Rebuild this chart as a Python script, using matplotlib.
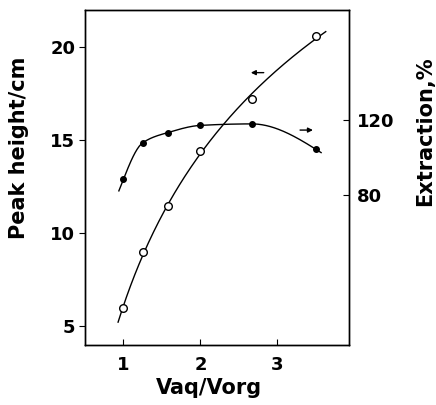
import numpy as np
import matplotlib
matplotlib.use("Agg")
import matplotlib.pyplot as plt

# Vaq/Vorg ratios
ratio = [1.0, 1.25, 1.58, 2.0, 2.67, 3.5]

# peak height (open circles, left axis)
peak_height = [6.0, 9.0, 11.5, 14.45, 17.2, 20.6]

# extraction % (filled circles, right axis)
extraction = [88.5, 107.9, 113.4, 117.2, 118.0, 104.5]

x_ticks = [1, 2, 3]
left_ticks = [5, 10, 15, 20]
right_ticks = [80, 120]


def pchip_curve(x, y, xq):
    # shape preserving cubic through the points, straight beyond the ends
    x = np.asarray(x, float)
    y = np.asarray(y, float)
    h = np.diff(x)
    delta = np.diff(y) / h
    n = len(x)
    d = np.zeros(n)
    for k in range(1, n - 1):
        if delta[k - 1] * delta[k] > 0:
            w1 = 2 * h[k] + h[k - 1]
            w2 = h[k] + 2 * h[k - 1]
            d[k] = (w1 + w2) / (w1 / delta[k - 1] + w2 / delta[k])

    def end_slope(h0, h1, d0, d1):
        s = ((2 * h0 + h1) * d0 - h0 * d1) / (h0 + h1)
        if np.sign(s) != np.sign(d0):
            s = 0.0
        elif np.sign(d0) != np.sign(d1) and abs(s) > abs(3 * d0):
            s = 3 * d0
        return s

    d[0] = end_slope(h[0], h[1], delta[0], delta[1])
    d[-1] = end_slope(h[-1], h[-2], delta[-1], delta[-2])

    out = []
    for q in xq:
        if q <= x[0]:
            out.append(y[0] + d[0] * (q - x[0]))
            continue
        if q >= x[-1]:
            out.append(y[-1] + d[-1] * (q - x[-1]))
            continue
        i = np.searchsorted(x, q) - 1
        t = (q - x[i]) / h[i]
        h00 = 2 * t ** 3 - 3 * t ** 2 + 1
        h10 = t ** 3 - 2 * t ** 2 + t
        h01 = -2 * t ** 3 + 3 * t ** 2
        h11 = t ** 3 - t ** 2
        out.append(h00 * y[i] + h10 * h[i] * d[i]
                   + h01 * y[i + 1] + h11 * h[i] * d[i + 1])
    return np.array(out)


plt.rcParams["font.family"] = ["DejaVu Sans"]
plt.rcParams["font.weight"] = "bold"

fig = plt.figure(figsize=(4.36, 4.05), dpi=100)
ax = fig.add_axes([0.195, 0.148, 0.605, 0.827])
ax2 = ax.twinx()

# peak height: least squares curve in log(ratio)
p1 = np.polyfit(np.log(ratio), peak_height, 2)
xf1 = np.linspace(0.93, 3.63, 200)
ax.plot(xf1, np.polyval(p1, np.log(xf1)), color="black", lw=1)
ax.plot(ratio, peak_height, "o", mfc="white", mec="black", ms=5.5, mew=1)

xf2 = np.linspace(0.94, 3.57, 200)
ax2.plot(xf2, pchip_curve(ratio, extraction, xf2), color="black", lw=1)
ax2.plot(ratio, extraction, "o", color="black", ms=4)

ax.set_xlim(0.5, 3.93)
ax.set_ylim(4.0, 22.0)
ax2.set_ylim(0, 178.7)

ax.set_xticks(x_ticks)
ax.set_yticks(left_ticks)
ax2.set_yticks(right_ticks)

ax.tick_params(axis="x", direction="in", length=4, labelsize=13, pad=8)
ax.tick_params(axis="y", direction="out", length=4, labelsize=13, pad=3)
ax2.tick_params(axis="y", direction="in", length=4, labelsize=13, pad=6)

for a in (ax, ax2):
    for s in a.spines.values():
        s.set_linewidth(1)

# direction arrows
ax.annotate("", xy=(2.62, 18.64), xytext=(2.86, 18.64),
            arrowprops=dict(arrowstyle="-|>", color="black", lw=1,
                            mutation_scale=7))
ax2.annotate("", xy=(3.5, 114.7), xytext=(3.26, 114.7),
             arrowprops=dict(arrowstyle="-|>", color="black", lw=1,
                             mutation_scale=7))

fig.text(0.48, 0.042, "Vaq/Vorg", ha="center", va="center", fontsize=15,
         fontweight="bold")
fig.text(0.044, 0.635, "Peak height/cm", rotation=90, ha="center",
         va="center", fontsize=15, fontweight="bold")
fig.text(0.975, 0.675, "Extraction,%", rotation=90, ha="center",
         va="center", fontsize=15, fontweight="bold")

fig.savefig("out.png", dpi=100)
